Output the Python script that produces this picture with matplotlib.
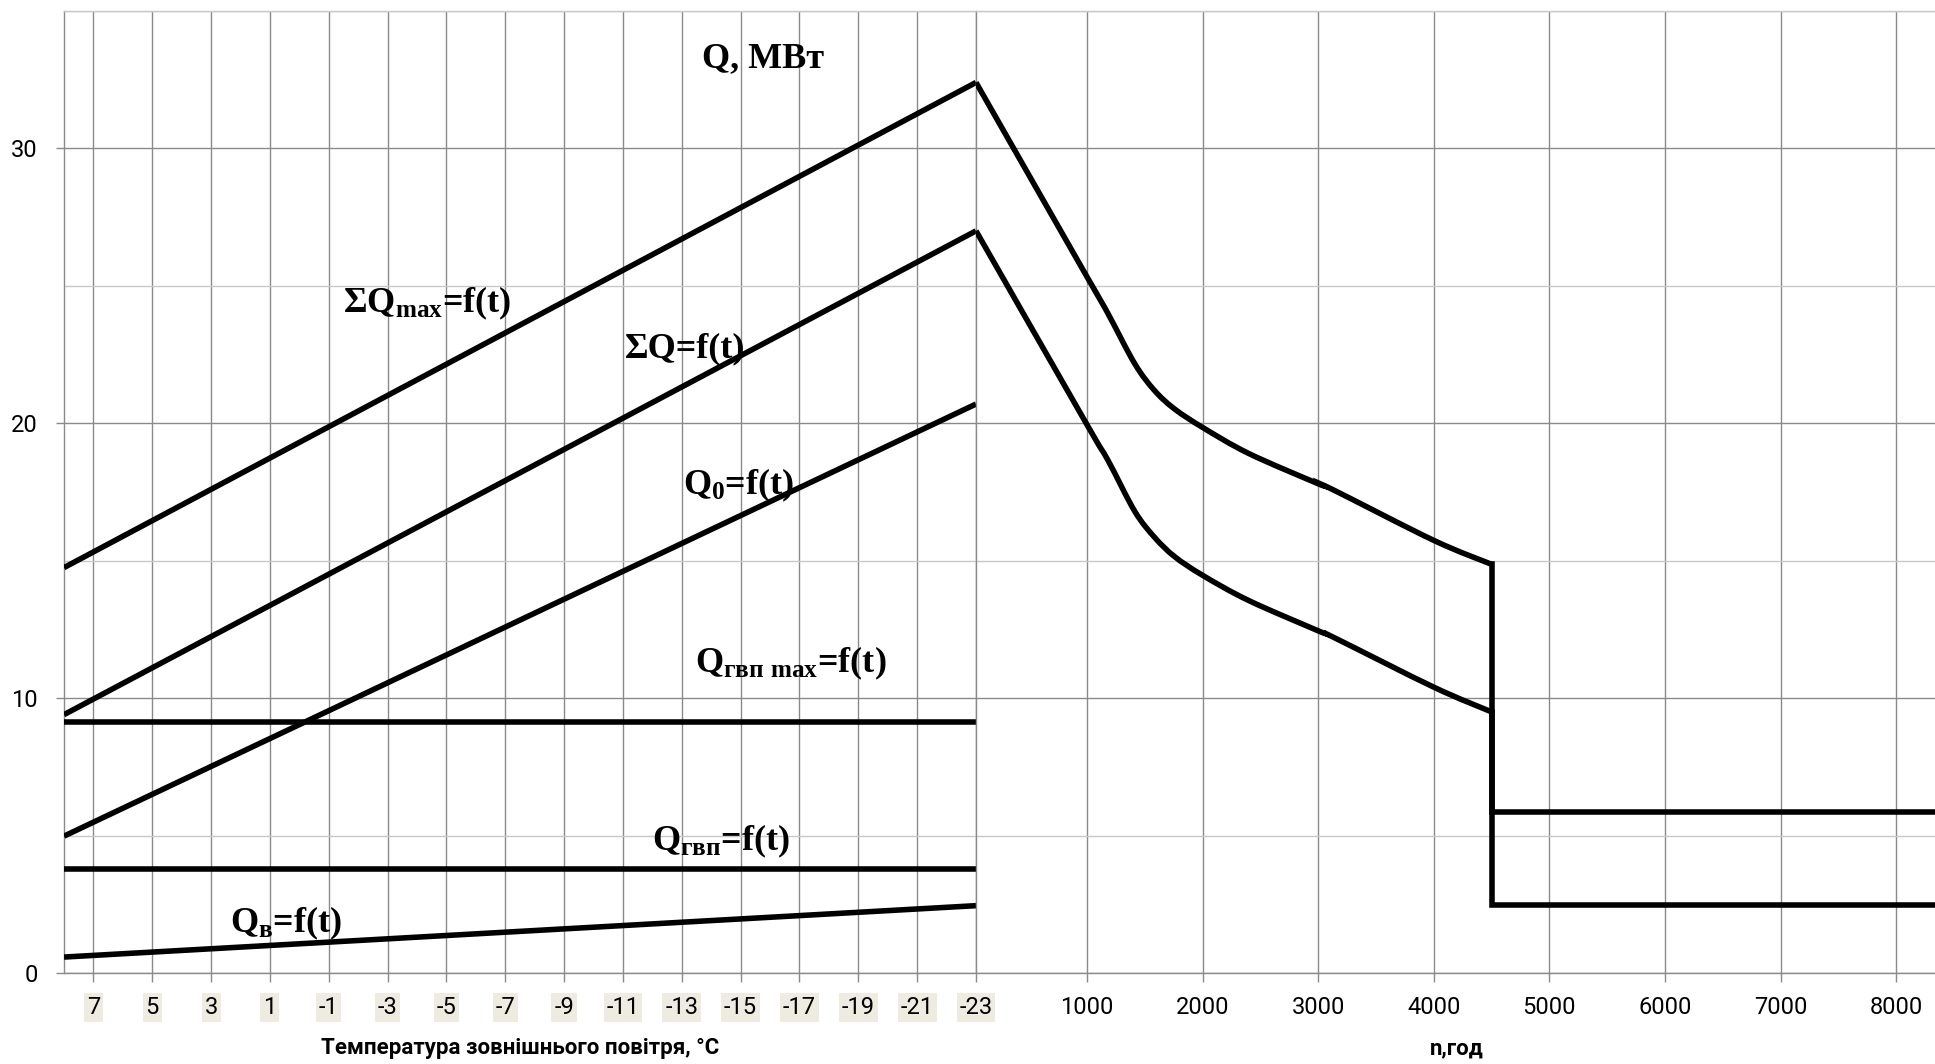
import matplotlib
matplotlib.use('Agg')
import matplotlib.pyplot as plt
from matplotlib.path import Path
from matplotlib.patches import PathPatch
import numpy as np

plt.rcParams['mathtext.fontset'] = 'custom'
plt.rcParams['mathtext.rm'] = 'Liberation Serif:bold'
plt.rcParams['mathtext.it'] = 'Liberation Serif:bold'
plt.rcParams['mathtext.bf'] = 'Liberation Serif:bold'

W, H = 1935, 1064

# ---------------- data ----------------
temp_ticks = [7, 5, 3, 1, -1, -3, -5, -7, -9, -11, -13, -15, -17, -19, -21, -23]
t_ends = [8, -23]
q_sum_max = [14.75, 32.4]
q_sum = [9.4, 27.0]
q_0 = [4.98, 20.7]
q_gvp_max = [9.15, 9.15]
q_gvp = [3.77, 3.77]
q_v = [0.58, 2.45]

hours = [40, 1000, 1182, 1413, 1585, 1758, 2000, 2400, 3000, 3130, 4000, 4500]
dur_upper = [32.4, 25.33, 23.99, 22.17, 21.19, 20.52, 19.85, 18.9, 17.80, 17.58, 15.74, 14.87]
dur_lower = [27.0, 19.95, 18.65, 16.8, 15.85, 15.15, 14.47, 13.55, 12.45, 12.22, 10.4, 9.5]
summer_hours = [4500, 8336]
summer_upper = [5.87, 5.87]
summer_lower = [2.47, 2.47]

hour_ticks = [1000, 2000, 3000, 4000, 5000, 6000, 7000, 8000]
y_ticks = [0, 10, 20, 30]
y_minor = [5, 15, 25, 35]

# ---------------- style ----------------
GRID_MAJ = '#8a8a8a'
GRID_MIN = '#c8c8c8'
LW = 4.0
TICK_FONT = ['Roboto', 'DejaVu Sans']
SERIF = ['Liberation Serif', 'DejaVu Serif']
TICK_SIZE = 17


def smooth_path(x, y):
    pts = np.column_stack([x, y]).astype(float)
    n = len(pts)
    verts = [pts[0]]
    codes = [Path.MOVETO]
    for i in range(n - 1):
        p0 = pts[i - 1] if i > 0 else pts[i]
        p1 = pts[i]
        p2 = pts[i + 1]
        p3 = pts[i + 2] if i + 2 < n else pts[i + 1]
        c1 = p1 + (p2 - p0) / 6.0
        c2 = p2 - (p3 - p1) / 6.0
        verts += [c1, c2, p2]
        codes += [Path.CURVE4] * 3
    return Path(verts, codes)


fig = plt.figure(figsize=(W / 100, H / 100), dpi=100)
fig.patch.set_facecolor('white')

bottom = (H - 973) / H
height = (973 - 11) / H
axL = fig.add_axes([64 / W, bottom, (976 - 64) / W, height])
axR = fig.add_axes([976 / W, bottom, (W - 976) / W, height])

for ax in (axL, axR):
    ax.set_ylim(0, 35)
    ax.set_yticks(y_ticks)
    ax.set_yticks(y_minor, minor=True)
    ax.set_axisbelow(True)
    ax.grid(which='major', color=GRID_MAJ, lw=1.0)
    ax.grid(which='minor', axis='y', color=GRID_MIN, lw=1.0)
    ax.tick_params(which='minor', length=0)
    ax.spines['right'].set_visible(False)
    ax.spines['top'].set_color(GRID_MIN)
    ax.spines['bottom'].set_color(GRID_MAJ)
    ax.spines['left'].set_color(GRID_MAJ)
    for s in ax.spines.values():
        s.set_linewidth(1.0)

# left (temperature) part
axL.set_xlim(t_ends[0], t_ends[1])
axL.set_xticks(temp_ticks)
axL.set_xticklabels([str(t) for t in temp_ticks], fontfamily=TICK_FONT, fontsize=TICK_SIZE)
axL.set_yticklabels([str(v) for v in y_ticks], fontfamily=TICK_FONT, fontsize=TICK_SIZE)
axL.tick_params(axis='x', which='major', direction='out', length=6.5, width=1.0,
                color=GRID_MAJ, pad=10)
axL.tick_params(axis='y', which='major', direction='out', length=6, width=1.0,
                color=GRID_MAJ, pad=13)
for lbl in axL.get_xticklabels():
    lbl.set_bbox(dict(facecolor='#EEECE1', edgecolor='none', boxstyle='square,pad=0.12'))

for series in (q_sum_max, q_sum, q_0, q_gvp_max, q_gvp, q_v):
    axL.plot(t_ends, series, color='black', lw=LW, solid_capstyle='butt', zorder=3)

# right (duration) part
axR.set_xlim(hours[0], summer_hours[-1])
axR.set_xticks(hour_ticks)
axR.set_xticklabels([str(h) for h in hour_ticks], fontfamily=TICK_FONT, fontsize=TICK_SIZE)
axR.tick_params(axis='x', which='major', direction='out', length=6.5, width=1.0,
                color=GRID_MAJ, pad=10)
axR.tick_params(axis='y', which='both', length=0, labelleft=False)

for curve in (dur_upper, dur_lower):
    axR.add_patch(PathPatch(smooth_path(hours, curve), facecolor='none',
                            edgecolor='black', lw=LW, zorder=3, capstyle='butt'))
axR.plot([hours[-1]] + summer_hours, [dur_upper[-1]] + summer_upper,
         color='black', lw=LW, solid_joinstyle='miter', zorder=3)
axR.plot([hours[-1]] + summer_hours, [dur_lower[-1]] + summer_lower,
         color='black', lw=LW, solid_joinstyle='miter', zorder=3)


# annotations
def ftext(x, y, s, **kw):
    fig.text(x / W, 1 - y / H, s, **kw)


lab = dict(fontfamily=SERIF, fontweight='bold', fontsize=26, ha='left', va='baseline',
           color='black', zorder=5)
ftext(702, 67, 'Q, МВт', **lab)
ftext(343, 312, 'ΣQ$_{\\mathrm{max}}$=f(t)', **lab)
ftext(625, 357, 'ΣQ=f(t)', **lab)
ftext(683, 494, 'Q$_{\\mathrm{0}}$=f(t)', **lab)
ftext(695, 672, 'Q$_{\\mathrm{гвп\\ max}}$=f(t)', **lab)
ftext(652, 850, 'Q$_{\\mathrm{гвп}}$=f(t)', **lab)
ftext(230, 932, 'Q$_{\\mathrm{в}}$=f(t)', **lab)

ttl = dict(fontfamily=TICK_FONT, fontweight='bold', fontsize=16, ha='center', va='baseline')
ftext(520, 1054, 'Температура зовнішнього повітря, °С', **ttl)
ftext(1457, 1054, 'n,год', **ttl)

fig.savefig('out.png', dpi=100, facecolor='white')
